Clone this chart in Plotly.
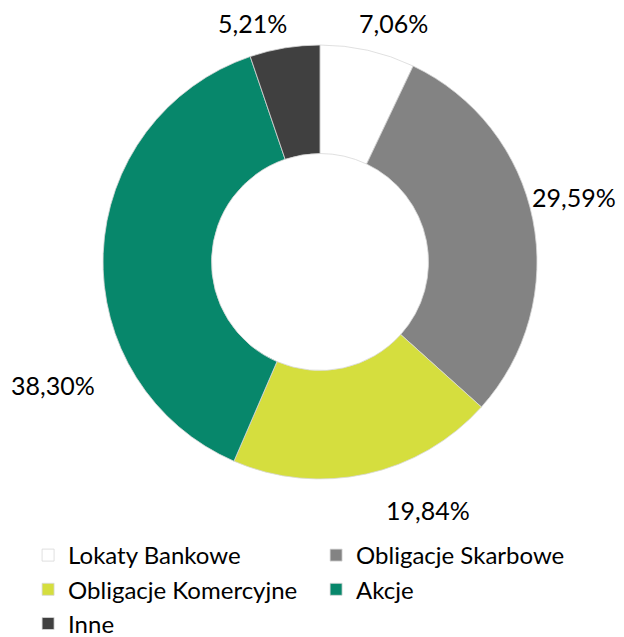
import plotly.graph_objects as go

categories = ["Lokaty Bankowe", "Obligacje Skarbowe", "Obligacje Komercyjne", "Akcje", "Inne"]
values = [7.06, 29.59, 19.84, 38.30, 5.21]
colors = ["#FFFFFF", "#838383", "#D5DE3E", "#07876B", "#404040"]

W, H = 624, 637
# label anchor positions (layout, in pixels from top-left of the figure)
label_px = [(393, 23), (574, 197), (428, 510), (53, 385), (252, 23)]

fig = go.Figure(go.Pie(
    labels=categories,
    values=values,
    hole=0.50,
    sort=False,
    direction="clockwise",
    rotation=0,
    marker=dict(colors=colors, line=dict(color="#d8d8d8", width=0.8)),
    textinfo="none",
    hoverinfo="label+value",
    domain=dict(x=[103 / W, 537 / W], y=[1 - 479 / H, 1 - 45 / H]),
))

for v, (px, py) in zip(values, label_px):
    fig.add_annotation(
        x=px / W, y=1 - py / H, xref="paper", yref="paper",
        text=f"{v:.2f}%".replace(".", ","),
        showarrow=False, xanchor="center", yanchor="middle",
        font=dict(size=25, family="Lato", color="#000000"),
    )

fig.update_layout(
    width=W, height=H,
    margin=dict(l=0, r=0, t=0, b=0, autoexpand=False),
    paper_bgcolor="white",
    plot_bgcolor="white",
    showlegend=True,
    legend=dict(
        orientation="h",
        x=0.045, y=1 - 533 / H, xanchor="left", yanchor="top",
        entrywidth=243,
        font=dict(size=24, family="Lato", color="#000000"),
        tracegroupgap=0,
        bgcolor="rgba(0,0,0,0)",
    ),
    font=dict(family="Lato"),
)

fig.write_html(
    "out.html",
    config={"displayModeBar": False},
    post_script="document.body.style.margin='0';document.body.style.overflow='hidden';",
)
